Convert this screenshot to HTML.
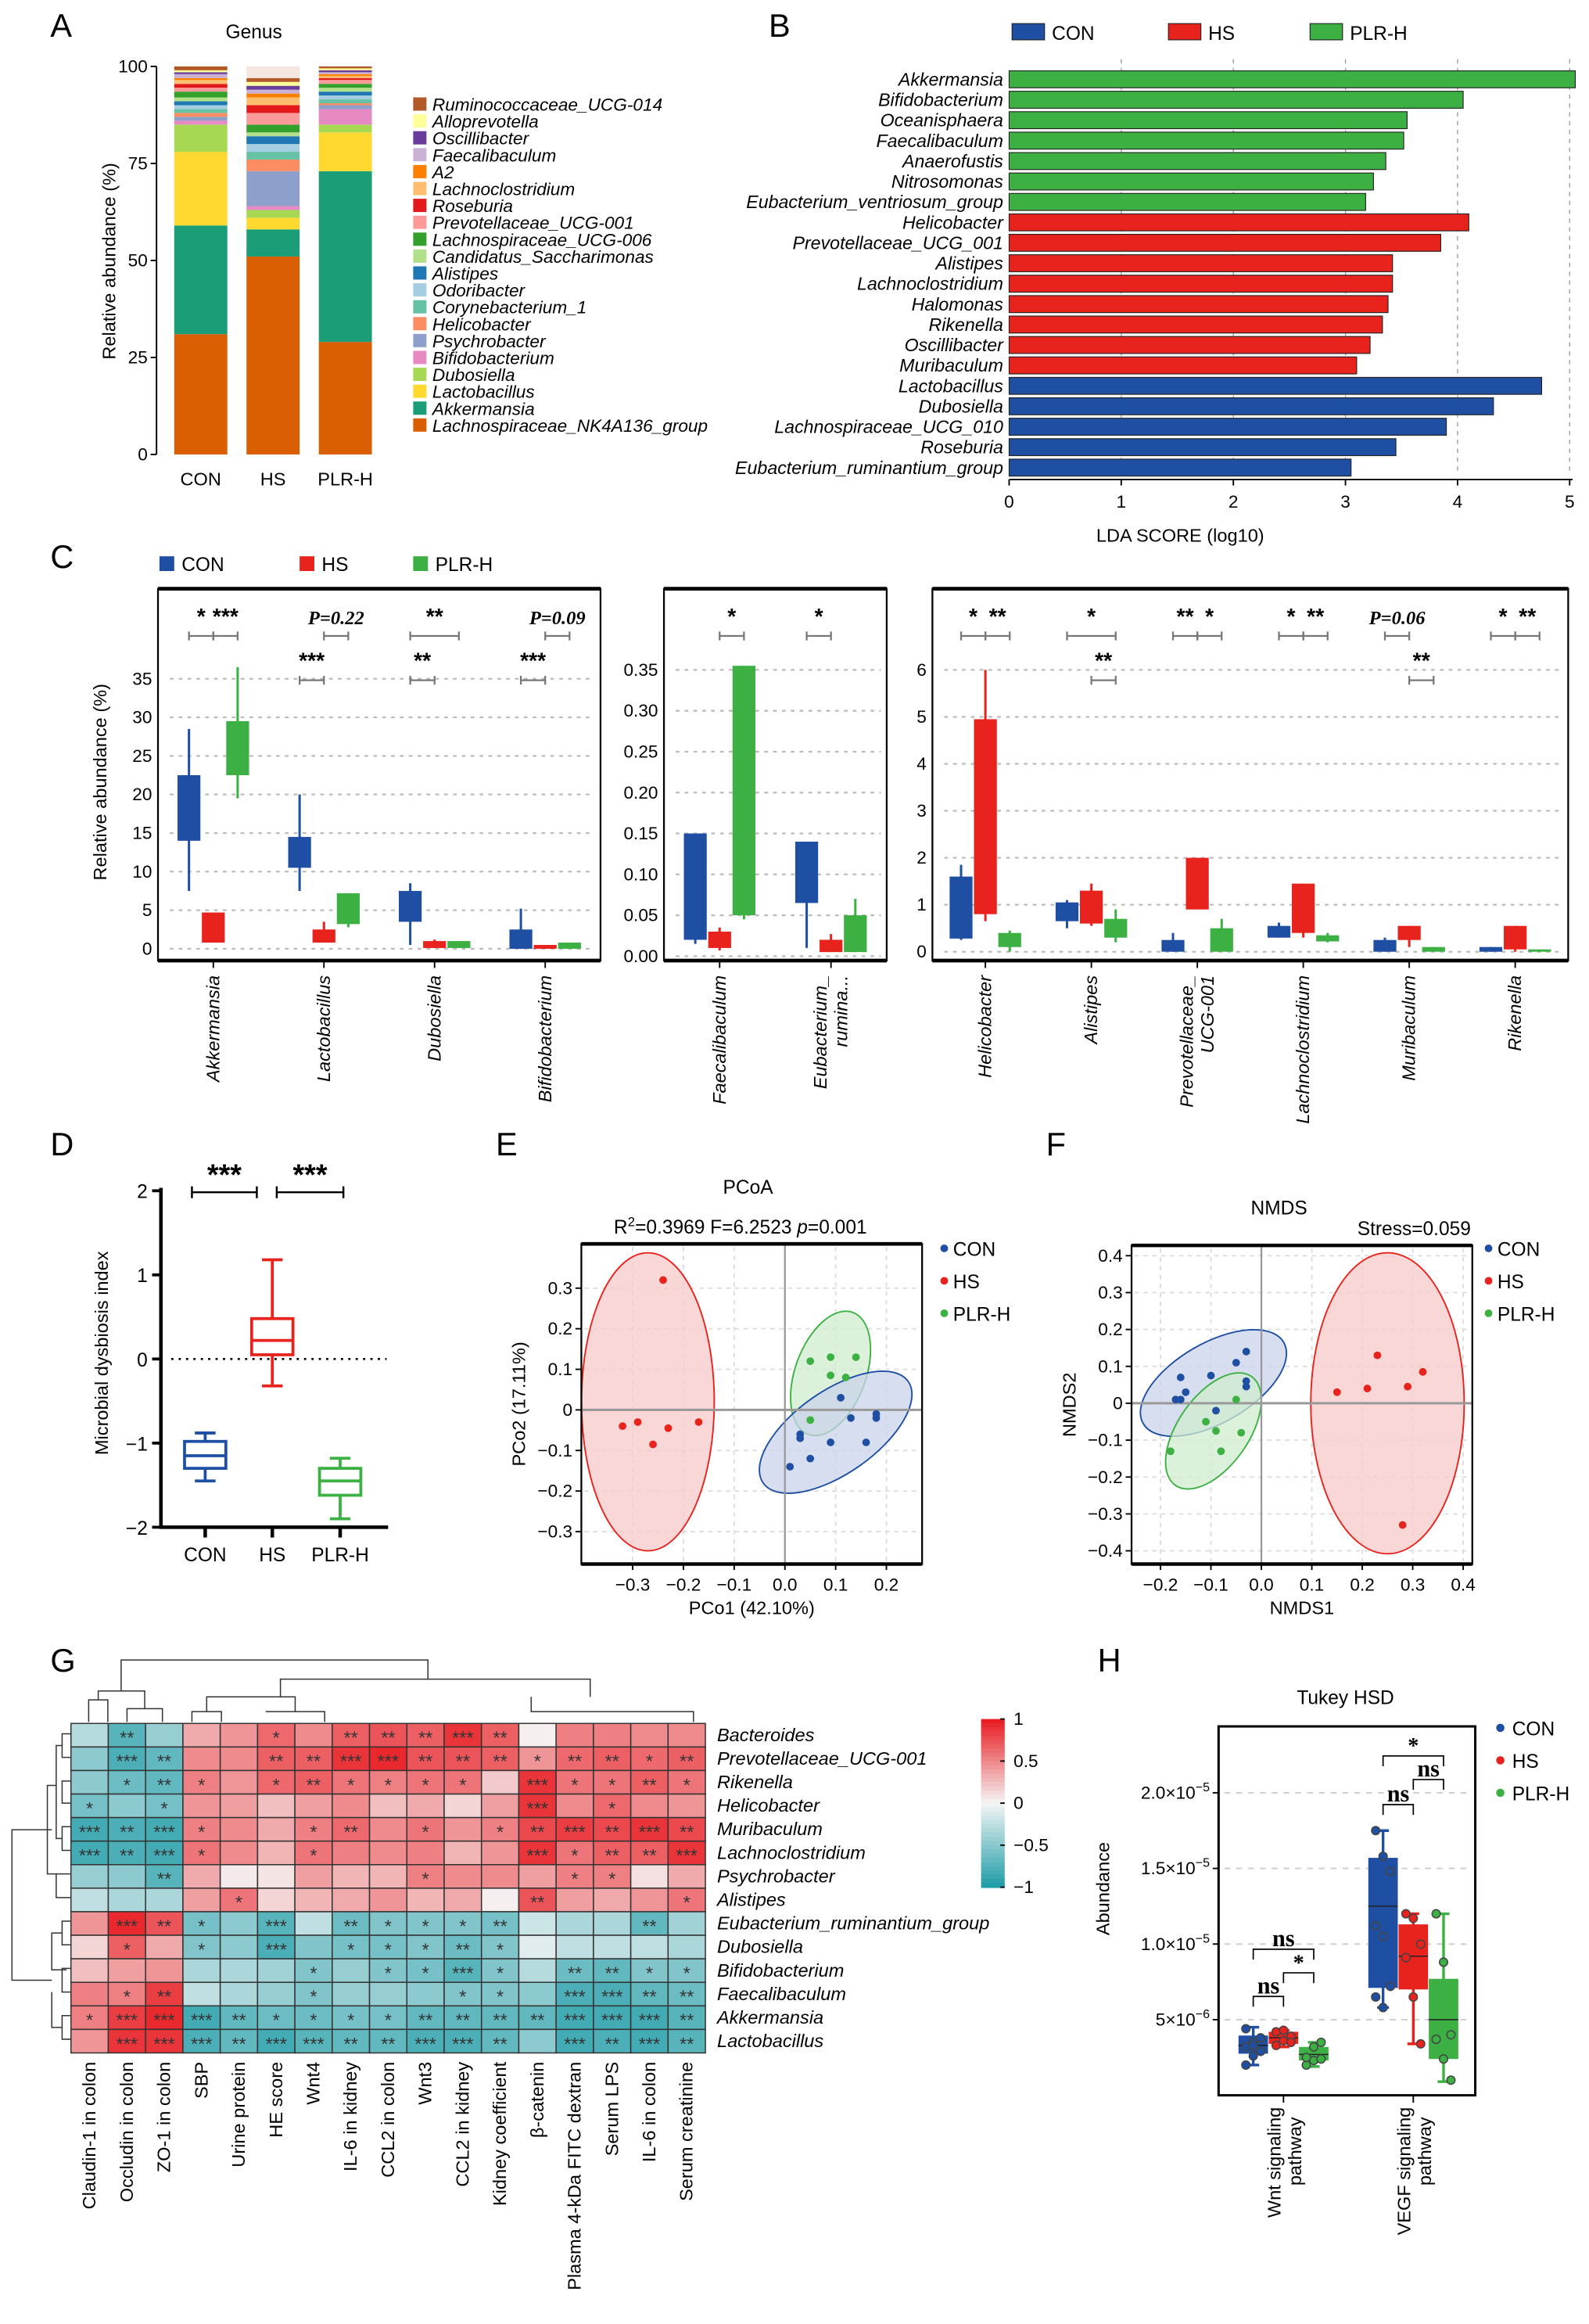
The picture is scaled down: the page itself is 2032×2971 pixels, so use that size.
<!DOCTYPE html>
<html><head><meta charset="utf-8"><style>
html,body{margin:0;padding:0;background:#fff;}
svg{display:block;font-family:"Liberation Sans",Arial,sans-serif;}
.it{font-style:italic;}
</style></head>
<body>
<svg id="fig" xmlns="http://www.w3.org/2000/svg" width="2032" height="2971" viewBox="0 0 1077 1575">
<rect x="0" y="0" width="1077" height="1575" fill="#fff"/>
</svg>
<script>
// ---------- DATA ----------
const grpNames=['CON','HS','PLR-H'];
// Panel A (bottom->top stacking order)
const genusNames=['Lachnospiraceae_NK4A136_group','Akkermansia','Lactobacillus','Dubosiella','Bifidobacterium','Psychrobacter','Helicobacter','Corynebacterium_1','Odoribacter','Alistipes','Candidatus_Saccharimonas','Lachnospiraceae_UCG-006','Prevotellaceae_UCG-001','Roseburia','Lachnoclostridium','A2','Faecalibaculum','Oscillibacter','Alloprevotella','Ruminococcaceae_UCG-014'];
const genusColors=['#d95f02','#1b9e77','#ffd92f','#a6d854','#e78ac3','#8da0cb','#fc8d62','#66c2a5','#a6cee3','#1f78b4','#b2df8a','#33a02c','#fb9a99','#e31a1c','#fdbf6f','#ff7f00','#cab2d6','#6a3d9a','#ffff99','#b15928'];
const abunCON=[31,28,19,7,1,1,1,1,1,1,1,1.5,1,1,1,0.5,1,0.5,0.5,1];
const abunHS=[51,7,3,2,1,9,3,2,2,2,1,2,3,2,2,1,1,1,1,1];
const abunPLR=[29,44,10,2,4,1,0.5,1,1,1,1,1,1,0.5,0.5,0.5,0.5,0.5,0.5,0.5];
const aTicks=[0,25,50,75,100];
// Panel B
const ldaNames=['Akkermansia','Bifidobacterium','Oceanisphaera','Faecalibaculum','Anaerofustis','Nitrosomonas','Eubacterium_ventriosum_group','Helicobacter','Prevotellaceae_UCG_001','Alistipes','Lachnoclostridium','Halomonas','Rikenella','Oscillibacter','Muribaculum','Lactobacillus','Dubosiella','Lachnospiraceae_UCG_010','Roseburia','Eubacterium_ruminantium_group'];
const ldaScores=[5.05,4.05,3.55,3.52,3.36,3.25,3.18,4.1,3.85,3.42,3.42,3.38,3.33,3.22,3.1,4.75,4.32,3.9,3.45,3.05];
const ldaGroup=[2,2,2,2,2,2,2,1,1,1,1,1,1,1,1,0,0,0,0,0];
const bTicks=[0,1,2,3,4,5];
// Panel C  [min,q1,q3,max]
const c1Cats=['Akkermansia','Lactobacillus','Dubosiella','Bifidobacterium'];
const c1CON=[[7.5,14,22.5,28.5],[7.5,10.5,14.5,20],[0.5,3.5,7.5,8.5],[0,0,2.5,5.2]];
const c1HS=[[0.8,0.8,4.7,4.7],[0.8,0.8,2.5,3.5],[0.1,0.1,1,1.2],[0,0,0.5,0.5]];
const c1PLR=[[19.5,22.5,29.5,36.5],[2.8,3.2,7.2,7.2],[0.1,0.1,1,1],[0,0,0.8,0.8]];
const c1Ticks=[0,5,10,15,20,25,30,35];
const c2Cats=['Faecalibaculum','Eubacterium_ rumina...'];
const c2CON=[[0.015,0.02,0.15,0.15],[0.01,0.065,0.14,0.14]];
const c2HS=[[0.007,0.01,0.03,0.035],[0.005,0.005,0.02,0.027]];
const c2PLR=[[0.045,0.05,0.355,0.355],[0.005,0.005,0.05,0.07]];
const c2Ticks=[0,0.05,0.10,0.15,0.20,0.25,0.30,0.35];
const c3Cats=['Helicobacter','Alistipes','Prevotellaceae_ UCG-001','Lachnoclostridium','Muribaculum','Rikenella'];
const c3CON=[[0.25,0.28,1.6,1.85],[0.5,0.65,1.05,1.1],[0,0,0.25,0.4],[0.3,0.3,0.55,0.62],[0,0,0.25,0.3],[0,0,0.1,0.1]];
const c3HS=[[0.65,0.8,4.95,6.0],[0.55,0.6,1.3,1.45],[0.9,0.9,2.0,2.0],[0.3,0.4,1.45,1.45],[0.1,0.25,0.55,0.55],[0,0.05,0.55,0.55]];
const c3PLR=[[0,0.1,0.4,0.45],[0.2,0.3,0.7,0.9],[0,0,0.5,0.7],[0.2,0.22,0.35,0.4],[0,0,0.1,0.1],[0,0,0.05,0.05]];
const c3Ticks=[0,1,2,3,4,5,6];
// significance [catIndex, g1, g2, label, row]
const sig1=[[0,0,1,'*',0],[0,1,2,'***',0],[1,1,2,'P=0.22',0],[1,0,1,'***',1],[2,0,2,'**',0],[2,0,1,'**',1],[3,1,2,'P=0.09',0],[3,0,1,'***',1]];
const sig2=[[0,1,2,'*',0],[1,0,1,'*',0]];
const sig3=[[0,0,1,'*',0],[0,1,2,'**',0],[1,0,2,'*',0],[1,1,2,'**',1],[2,0,1,'**',0],[2,1,2,'*',0],[3,0,1,'*',0],[3,1,2,'**',0],[4,0,1,'P=0.06',0],[4,1,2,'**',1],[5,0,1,'*',0],[5,1,2,'**',0]];
// Panel D  [min,q1,median,q3,max]
const dBox=[[-1.45,-1.3,-1.15,-0.98,-0.88],[-0.32,0.05,0.22,0.48,1.18],[-1.9,-1.62,-1.45,-1.3,-1.18]];
const dTicks=[-2,-1,0,1,2];
// Panel E PCoA
const eConX=[0.01,0.05,0.03,0.03,0.09,0.16,0.13,0.18,0.18,0.11];
const eConY=[-0.14,-0.12,-0.06,-0.07,-0.08,-0.08,-0.02,-0.01,-0.02,0.03];
const eHsX=[-0.24,-0.32,-0.29,-0.26,-0.23,-0.17];
const eHsY=[0.32,-0.04,-0.03,-0.085,-0.045,-0.03];
const ePlrX=[0.05,0.09,0.14,0.09,0.12,0.05];
const ePlrY=[0.12,0.13,0.13,0.085,0.08,-0.025];
const eXTicks=[-0.3,-0.2,-0.1,0.0,0.1,0.2];
const eYTicks=[-0.3,-0.2,-0.1,0,0.1,0.2,0.3];
// Panel F NMDS
const fConX=[-0.16,-0.1,-0.05,-0.03,-0.03,-0.03,-0.15,-0.16,-0.17,-0.09];
const fConY=[0.07,0.075,0.11,0.14,0.06,0.045,0.03,0.01,0.01,-0.02];
const fHsX=[0.15,0.21,0.23,0.29,0.32,0.28];
const fHsY=[0.03,0.04,0.13,0.045,0.085,-0.33];
const fPlrX=[-0.18,-0.11,-0.09,-0.04,-0.08,-0.05];
const fPlrY=[-0.13,-0.05,-0.075,-0.08,-0.13,0.01];
const fXTicks=[-0.2,-0.1,0.0,0.1,0.2,0.3,0.4];
const fYTicks=[-0.4,-0.3,-0.2,-0.1,0,0.1,0.2,0.3,0.4];
// Panel G heatmap
const gRows=['Bacteroides','Prevotellaceae_UCG-001','Rikenella','Helicobacter','Muribaculum','Lachnoclostridium','Psychrobacter','Alistipes','Eubacterium_ruminantium_group','Dubosiella','Bifidobacterium','Faecalibaculum','Akkermansia','Lactobacillus'];
const gCols=['Claudin-1 in colon','Occludin in colon','ZO-1 in colon','SBP','Urine protein','HE score','Wnt4','IL-6 in kidney','CCL2 in colon','Wnt3','CCL2 in kidney','Kidney coefficient','β-catenin','Plasma 4-kDa FITC dextran','Serum LPS','IL-6 in colon','Serum creatinine'];
const gVals=[
[-0.3,-0.75,-0.45,0.35,0.45,0.65,0.5,0.7,0.75,0.7,0.9,0.7,0.03,0.55,0.55,0.5,0.5],
[-0.5,-0.8,-0.7,0.5,0.5,0.7,0.7,0.9,0.95,0.75,0.75,0.7,0.45,0.65,0.7,0.65,0.7],
[-0.5,-0.65,-0.7,0.55,0.45,0.65,0.7,0.6,0.55,0.6,0.6,0.2,0.9,0.6,0.6,0.7,0.6],
[-0.6,-0.5,-0.6,0.45,0.4,0.25,0.4,0.5,0.25,0.35,0.15,0.4,0.9,0.5,0.65,0.5,0.45],
[-0.85,-0.8,-0.85,0.55,0.5,0.35,0.55,0.65,0.5,0.6,0.45,0.55,0.8,0.85,0.8,0.9,0.8],
[-0.85,-0.8,-0.85,0.6,0.5,0.3,0.6,0.55,0.5,0.55,0.3,0.45,0.9,0.6,0.7,0.7,0.9],
[-0.45,-0.5,-0.75,0.35,0.05,0.08,0.4,0.3,0.3,0.55,0.5,0.5,0.4,0.55,0.55,0.1,0.35],
[-0.25,-0.35,-0.35,0.4,0.6,0.15,0.3,0.35,0.45,0.3,0.35,0.03,0.75,0.4,0.35,0.45,0.6],
[0.45,0.95,0.75,-0.6,-0.5,-0.75,-0.25,-0.65,-0.55,-0.55,-0.55,-0.6,-0.2,-0.35,-0.35,-0.7,-0.4],
[0.15,0.7,0.35,-0.55,-0.5,-0.8,-0.55,-0.6,-0.6,-0.55,-0.65,-0.55,-0.1,-0.25,-0.25,-0.25,-0.35],
[0.25,0.4,0.45,-0.35,-0.35,-0.4,-0.55,-0.45,-0.55,-0.6,-0.75,-0.55,-0.3,-0.65,-0.7,-0.55,-0.55],
[0.55,0.55,0.85,-0.25,-0.35,-0.45,-0.55,-0.45,-0.45,-0.5,-0.55,-0.55,-0.5,-0.8,-0.8,-0.7,-0.65],
[0.55,0.85,0.95,-0.85,-0.7,-0.65,-0.65,-0.6,-0.6,-0.7,-0.7,-0.7,-0.7,-0.85,-0.85,-0.85,-0.75],
[0.45,0.9,0.9,-0.8,-0.7,-0.85,-0.75,-0.7,-0.7,-0.8,-0.8,-0.7,-0.5,-0.85,-0.8,-0.85,-0.75]];
const gStars=[
['','**','','','','*','','**','**','**','***','**','','','','',''],
['','***','**','','','**','**','***','***','**','**','**','*','**','**','*','**'],
['','*','**','*','','*','**','*','*','*','*','','***','*','*','**','*'],
['*','','*','','','','','','','','','','***','','*','',''],
['***','**','***','*','','','*','**','','*','','*','**','***','**','***','**'],
['***','**','***','*','','','*','','','','','','***','*','**','**','***'],
['','','**','','','','','','','*','','','','*','*','',''],
['','','','','*','','','','','','','','**','','','','*'],
['','***','**','*','','***','','**','*','*','*','**','','','','**',''],
['','*','','*','','***','','*','*','*','**','*','','','','',''],
['','','','','','','*','','*','*','***','*','','**','**','*','*'],
['','*','**','','','','*','','','','*','*','','***','***','**','**'],
['*','***','***','***','**','*','*','*','*','**','**','**','**','***','***','***','**'],
['','***','***','***','**','***','***','**','**','***','***','**','','***','**','***','**']];
const gBarTicks=[-1,-0.5,0,0.5,1];
// Panel H (values in 1e-6)  [min,q1,median,q3,max]
const hCats=['Wnt signaling pathway','VEGF signaling pathway'];
const hBox=[[[2.0,2.75,3.3,3.95,4.5],[3.2,3.4,3.8,4.2,4.3],[1.9,2.3,2.7,3.2,3.5]],[[5.8,7.1,12.5,15.7,17.5],[3.4,7.0,9.2,11.3,12],[0.9,2.4,5,7.7,12]]];
const hPtsWnt=[[2.0,2.6,2.9,3.2,3.5,3.8,4.4,3.3],[3.3,3.6,3.9,4.2,4.3,3.5],[2.0,2.3,2.4,2.5,3.2,3.5]];
const hPtsVegf=[[17.5,15.8,14.8,11.2,10.5,7.2,6.5,5.8],[12,11.7,10,9.1,6.5,3.4],[12,8.8,4,3.7,2.4,1.0]];
const hTicks=[5,10,15,20];
const hTickLabels=['5×10','1.0×10','1.5×10','2.0×10'];
const hTickExp=['−6','−5','−5','−5'];

// ---------- HELPERS ----------
const NS='http://www.w3.org/2000/svg';
const svg=document.getElementById('fig');
const COL=['#1f4fa3','#e8221c','#3cb043'];
function mk(tag,a,p){const e=document.createElementNS(NS,tag);for(const k in a)e.setAttribute(k,a[k]);(p||svg).appendChild(e);return e;}
function tx(x,y,s,a,p){const e=mk('text',Object.assign({x:x,y:y},a||{}),p);e.textContent=s;return e;}
function fmt(v,d){return v.toFixed(d);}
let e;

// panel letters
const letters=[['A',34,25],['B',521,25],['C',34,385],['D',34,783],['E',336,783],['F',709,783],['G',34,1133],['H',744,1133]];
for(const L of letters){
e=tx(L[1],L[2],L[0],{'font-size':22});


}

// ---------- PANEL A ----------
{
const g=mk('g',{});


const y0=308,y1=45; const ay=v=>y0-(v/100)*(y0-y1);
e=tx(172,26,'Genus',{'font-size':13,'text-anchor':'middle'},g);


e=mk('line',{x1:106,y1:y1,x2:106,y2:y0,stroke:'#000','stroke-width':1},g);


for(const t of aTicks){
e=mk('line',{x1:102,y1:ay(t),x2:106,y2:ay(t),stroke:'#000'},g);


e=tx(100,ay(t)+4,String(t),{'font-size':12,'text-anchor':'end'},g);


}
e=tx(0,0,'Relative abundance (%)',{'font-size':12.5,'text-anchor':'middle',transform:'translate(78,177) rotate(-90)'},g);


const sets=[abunCON,abunHS,abunPLR]; const bx=[118,167,216];
sets.forEach((arr,bi)=>{
let cum=0;
arr.forEach((v,i)=>{
e=mk('rect',{x:bx[bi],y:ay(cum+v),width:36,height:ay(cum)-ay(cum+v),fill:genusColors[i]},g);


cum+=v;});
e=mk('rect',{x:bx[bi],y:ay(100),width:36,height:ay(cum)-ay(100),fill:'#f3e7df'},g);


e=tx(bx[bi]+18,329,grpNames[bi],{'font-size':12.5,'text-anchor':'middle'},g);


});
for(let k=0;k<genusNames.length;k++){
const i=genusNames.length-1-k; const yy=66+k*11.45;
e=mk('rect',{x:280,y:yy,width:9,height:9,fill:genusColors[i]},g);


e=tx(293,yy+9,genusNames[i],{'font-size':12,'class':'it'},g);


}
}

// ---------- PANEL B ----------
{
const g=mk('g',{});


const x0=684,sc=76; const bxp=v=>x0+v*sc;
const lx=[686,792,888];
for(let i=0;i<3;i++){
e=mk('rect',{x:lx[i],y:16,width:22,height:11,fill:COL[i],stroke:'#222','stroke-width':0.6},g);


e=tx(lx[i]+27,27,grpNames[i],{'font-size':13},g);


}
for(const t of bTicks){
if(t>0){e=mk('line',{x1:bxp(t),y1:40,x2:bxp(t),y2:322,stroke:'#999','stroke-dasharray':'3,3','stroke-width':0.7},g);

}
e=mk('line',{x1:bxp(t),y1:325,x2:bxp(t),y2:329,stroke:'#000'},g);


e=tx(bxp(t),344,String(t),{'font-size':12,'text-anchor':'middle'},g);


}
e=mk('line',{x1:x0,y1:325,x2:1066,y2:325,stroke:'#000'},g);


e=tx(800,367,'LDA SCORE (log10)',{'font-size':12.5,'text-anchor':'middle'},g);


ldaNames.forEach((n,i)=>{
const yy=48+i*13.85;
e=mk('rect',{x:x0,y:yy,width:bxp(ldaScores[i])-x0,height:11.5,fill:COL[ldaGroup[i]],stroke:'#222','stroke-width':0.6},g);


e=tx(680,yy+10,n,{'font-size':12.3,'text-anchor':'end','class':'it'},g);


});
}

// ---------- PANEL C ----------
{
const lx=[108,203,280];
for(let i=0;i<3;i++){
e=mk('rect',{x:lx[i],y:377,width:10,height:10,fill:COL[i]});


e=tx(lx[i]+15,387,grpNames[i],{'font-size':13});


}
e=tx(0,0,'Relative abundance (%)',{'font-size':12.5,'text-anchor':'middle',transform:'translate(72,530) rotate(-90)'});


function boxPanel(name,bx0,bx1,yTop,yBot,v0y,vTopY,vMax,ticks,dec,cats,sets,sigs){
const g=mk('g',{});


const ys=v=>v0y-(v/vMax)*(v0y-vTopY);
e=mk('rect',{x:bx0,y:yTop,width:bx1-bx0,height:yBot-yTop,fill:'none',stroke:'#000','stroke-width':1.2},g);


e=mk('line',{x1:bx0,y1:yTop,x2:bx1,y2:yTop,stroke:'#000','stroke-width':2.5},g);


e=mk('line',{x1:bx0,y1:yBot,x2:bx1,y2:yBot,stroke:'#000','stroke-width':2.5},g);


for(const t of ticks){
e=mk('line',{x1:bx0+8,y1:ys(t),x2:bx1-4,y2:ys(t),stroke:'#bbb','stroke-dasharray':'2.5,3.5','stroke-width':1.2},g);


e=tx(bx0-4,ys(t)+4,fmt(t,dec),{'font-size':12,'text-anchor':'end'},g);


}
const n=cats.length; const cw=(bx1-bx0)/n; const bw=15.5;
const gx=(c,gi)=>bx0+cw*(c+0.5)+(gi-1)*(bw+1);
cats.forEach((c,ci)=>{
const cx=bx0+cw*(ci+0.5);
e=mk('line',{x1:cx,y1:yBot,x2:cx,y2:yBot+5,stroke:'#000'},g);


const parts=c.split(' ');
parts.forEach((p,pi)=>{
e=tx(0,0,p,{'font-size':12.5,'text-anchor':'end','class':'it',transform:'translate('+(cx+4+(pi-(parts.length-1)/2)*14)+','+(yBot+10)+') rotate(-90)'},g);


});
for(let gi=0;gi<3;gi++){
const b=sets[gi][ci]; const x=gx(ci,gi);
e=mk('line',{x1:x,y1:ys(b[0]),x2:x,y2:ys(b[3]),stroke:COL[gi],'stroke-width':1.6},g);


e=mk('rect',{x:x-bw/2,y:ys(b[2]),width:bw,height:Math.max(1.5,ys(b[1])-ys(b[2])),fill:COL[gi]},g);


}
});
const rowY=[yTop+32,yTop+62];
for(const s of sigs){
const xa=gx(s[0],s[1]),xb=gx(s[0],s[2]),yy=rowY[s[4]];
e=mk('path',{d:'M'+xa+','+(yy-3)+'V'+(yy+3)+'M'+xa+','+yy+'H'+xb+'M'+xb+','+(yy-3)+'V'+(yy+3),stroke:'#777','stroke-width':1.2,fill:'none'},g);


const isP=s[3].startsWith('P');
e=tx((xa+xb)/2,yy-8,s[3],{'font-size':isP?13:15,'text-anchor':'middle','font-weight':'bold','font-family':isP?'Liberation Serif, serif':'Liberation Sans, sans-serif','font-style':isP?'italic':'normal'},g);


}
}
boxPanel('panel-c-box-1',107,407,399,651,643,460,35,c1Ticks,0,c1Cats,[c1CON,c1HS,c1PLR],sig1);
boxPanel('panel-c-box-2',450,601,399,651,648,454,0.35,c2Ticks,2,c2Cats,[c2CON,c2HS,c2PLR],sig2);
boxPanel('panel-c-box-3',632,1063,399,651,645,454,6,c3Ticks,0,c3Cats,[c3CON,c3HS,c3PLR],sig3);
}

// ---------- PANEL D ----------
{
const g=mk('g',{});


const ys=v=>921-v*57;
e=mk('path',{d:'M109,805V1035H263',stroke:'#000',fill:'none','stroke-width':2.4},g);


for(const t of dTicks){
e=mk('line',{x1:103,y1:ys(t),x2:109,y2:ys(t),stroke:'#000','stroke-width':2},g);


e=tx(100,ys(t)+5,String(t).replace('-','−'),{'font-size':13,'text-anchor':'end'},g);


}
e=tx(0,0,'Microbial dysbiosis index',{'font-size':12.5,'text-anchor':'middle',transform:'translate(73,917) rotate(-90)'},g);


e=mk('line',{x1:116,y1:ys(0),x2:262,y2:ys(0),stroke:'#000','stroke-dasharray':'1.5,3.5','stroke-width':1.4},g);


const xs=[139,184.5,230.5];
dBox.forEach((b,i)=>{
const x=xs[i];
e=mk('path',{d:'M'+x+','+ys(b[0])+'V'+ys(b[1])+'M'+x+','+ys(b[3])+'V'+ys(b[4])+'M'+(x-7)+','+ys(b[0])+'H'+(x+7)+'M'+(x-7)+','+ys(b[4])+'H'+(x+7),stroke:COL[i],'stroke-width':2,fill:'none'},g);


e=mk('rect',{x:x-14,y:ys(b[3]),width:28,height:ys(b[1])-ys(b[3]),fill:'#fff',stroke:COL[i],'stroke-width':2},g);


e=mk('line',{x1:x-14,y1:ys(b[2]),x2:x+14,y2:ys(b[2]),stroke:COL[i],'stroke-width':2},g);


e=mk('line',{x1:x,y1:1035,x2:x,y2:1042,stroke:'#000','stroke-width':2.4},g);


e=tx(x,1058,grpNames[i],{'font-size':13,'text-anchor':'middle'},g);


});
const sg=[[130,174,'***'],[187.5,232.7,'***']];
for(const s of sg){
e=mk('path',{d:'M'+s[0]+',804V812M'+s[0]+',808H'+s[1]+'M'+s[1]+',804V812',stroke:'#000','stroke-width':1.3,fill:'none'},g);


e=tx((s[0]+s[1])/2,803,s[2],{'font-size':20,'text-anchor':'middle','font-weight':'bold'},g);


}
}

// ---------- PANEL E / F scatter helper ----------
// ellipse spec: [cxData, cyData, rx px, ry px, angle, group]
function ordination(name,xs,ys,xt,yt,fx0,fx1,fy0,fy1,sets,ells,xTitle,yTitle,legX,legY){
const g=mk('g',{});


for(const t of xt){
e=mk('line',{x1:xs(t),y1:fy0+2,x2:xs(t),y2:fy1-2,stroke:'#ddd','stroke-dasharray':'3,3'},g);


}
for(const t of yt){
e=mk('line',{x1:fx0+2,y1:ys(t),x2:fx1-2,y2:ys(t),stroke:'#ddd','stroke-dasharray':'3,3'},g);


}
ells.forEach((el)=>{
e=mk('ellipse',{cx:xs(el[0]),cy:ys(el[1]),rx:el[2],ry:el[3],transform:'rotate('+el[4]+' '+xs(el[0])+' '+ys(el[1])+')',fill:['#c9d3ea','#f7caca','#cfeccd'][el[5]],'fill-opacity':0.75,stroke:COL[el[5]],'stroke-width':1},g);


});
e=mk('line',{x1:xs(0),y1:fy0,x2:xs(0),y2:fy1,stroke:'#999','stroke-width':1.2},g);


e=mk('line',{x1:fx0,y1:ys(0),x2:fx1,y2:ys(0),stroke:'#999','stroke-width':1.6},g);


e=mk('rect',{x:fx0,y:fy0,width:fx1-fx0,height:fy1-fy0,stroke:'#000',fill:'none','stroke-width':1.2},g);


e=mk('path',{d:'M'+fx0+','+fy0+'H'+fx1+'M'+fx0+','+fy1+'H'+fx1,stroke:'#000',fill:'none','stroke-width':2.4},g);


for(const t of xt){
e=mk('line',{x1:xs(t),y1:fy1,x2:xs(t),y2:fy1+4,stroke:'#000'},g);


e=tx(xs(t),fy1+18,fmt(t,1).replace('-','−'),{'font-size':12,'text-anchor':'middle'},g);


}
for(const t of yt){
e=mk('line',{x1:fx0-4,y1:ys(t),x2:fx0,y2:ys(t),stroke:'#000'},g);


e=tx(fx0-6,ys(t)+4,(t===0?'0':fmt(t,1)).replace('-','−'),{'font-size':12,'text-anchor':'end'},g);


}
sets.forEach((s,gi)=>{
s[0].forEach((v,i)=>{
e=mk('circle',{cx:xs(v),cy:ys(s[1][i]),r:2.6,fill:COL[gi]},g);


});
e=mk('circle',{cx:legX+2,cy:legY+gi*22-5,r:2.6,fill:COL[gi]},g);


e=tx(legX+8,legY+gi*22,grpNames[gi],{'font-size':13},g);


});
e=tx((fx0+fx1)/2,fy1+34,xTitle,{'font-size':12.5,'text-anchor':'middle'},g);


e=tx(0,0,yTitle,{'font-size':12.5,'text-anchor':'middle',transform:'translate('+(fx0-38)+','+((fy0+fy1)/2)+') rotate(-90)'},g);


return g;
}
{
const xs=v=>532+v*344,ys=v=>955.5-v*275;
const g=ordination('panel-e-pcoa',xs,ys,eXTicks,eYTicks,394,625,843,1060,[[eConX,eConY],[eHsX,eHsY],[ePlrX,ePlrY]],
[[-0.27,0.02,45,101,0,1],[0.09,0.09,44,24,-70,2],[0.1,-0.055,60,28,-35,0]],'PCo1 (42.10%)','PCo2 (17.11%)',638,851);
e=tx(507,809,'PCoA',{'font-size':13,'text-anchor':'middle'},g);


const t=tx(416,836,'R',{'font-size':13},g);


const s1=document.createElementNS(NS,'tspan');s1.setAttribute('dy','-5');s1.setAttribute('font-size','9');s1.textContent='2';t.appendChild(s1);
const s2=document.createElementNS(NS,'tspan');s2.setAttribute('dy','5');s2.textContent='=0.3969 F=6.2523 ';t.appendChild(s2);
const s3=document.createElementNS(NS,'tspan');s3.setAttribute('font-style','italic');s3.textContent='p';t.appendChild(s3);
const s4=document.createElementNS(NS,'tspan');s4.textContent='=0.001';t.appendChild(s4);
}
{
const xs=v=>855+v*342,ys=v=>951-v*250;
const g=ordination('panel-f-nmds',xs,ys,fXTicks,fYTicks,767,998,844,1060,[[fConX,fConY],[fHsX,fHsY],[fPlrX,fPlrY]],
[[-0.095,0.055,55,27,-30,0],[-0.095,-0.075,45,24,-55,2],[0.25,0.0,52,102,0,1]],'NMDS1','NMDS2',1007,851);
e=tx(867,823,'NMDS',{'font-size':13,'text-anchor':'middle'},g);


e=tx(997,837,'Stress=0.059',{'font-size':13,'text-anchor':'end'},g);


}

// ---------- PANEL G ----------
{
const g=mk('g',{});


const hx0=48,cw=25.3,hy0=1168,rh=15.95;
function color(v){
const a=Math.min(1,Math.abs(v));
const c=v>=0?[232,30,36]:[34,158,168]; const w=[245,245,245];
const m=w.map((x,i)=>Math.round(x+(c[i]-x)*a));
return 'rgb('+m.join(',')+')';}
gVals.forEach((row,ri)=>{row.forEach((v,ci)=>{
e=mk('rect',{x:hx0+ci*cw,y:hy0+ri*rh,width:cw,height:rh,fill:color(v),stroke:'#333','stroke-width':0.8},g);


if(gStars[ri][ci]){
e=tx(hx0+ci*cw+cw/2,hy0+ri*rh+rh/2+6,gStars[ri][ci],{'font-size':12.5,'text-anchor':'middle',fill:'#333'},g);

}
});
e=tx(486,hy0+ri*rh+12,gRows[ri],{'font-size':12.5,'class':'it'},g);


});
gCols.forEach((c,ci)=>{
e=tx(0,0,c,{'font-size':12.5,'text-anchor':'end',transform:'translate('+(hx0+ci*cw+cw/2+4)+','+(hy0+14*rh+6)+') rotate(-90)'},g);


});
e=mk('path',{d:'M60,1167V1152H73V1167M86,1167V1158H110V1167M98,1158V1146H66.5V1152M82,1146V1125H290V1138M130,1167V1160H150V1167M140,1160V1150H200V1160M180,1160H220V1167M190,1150V1138H400V1150M360,1150V1160H470V1167M300,1138H290',stroke:'#333',fill:'none','stroke-width':0.8},g);


e=mk('path',{d:'M48,1175H42V1191H48M42,1183H38V1222M48,1207H42V1222H48M48,1238H42V1254H48M42,1246H38V1222M38,1210H32V1270H38M48,1270H38V1286H48M35,1240H8V1342H20M48,1302H42V1318H48M42,1310H35V1335H45M48,1334H42V1350H48M48,1366H42V1382H48M42,1374H35V1350M20,1342H35',stroke:'#333',fill:'none','stroke-width':0.8},g);


const cbx=665,cby0=1165,cby1=1279;
for(let k=0;k<40;k++){
const v=1-2*k/39;
e=mk('rect',{x:cbx,y:cby0+k*(cby1-cby0)/40,width:16,height:(cby1-cby0)/40+0.5,fill:color(v)},g);


}
for(const t of gBarTicks){
const yy=cby0+(1-t)/2*(cby1-cby0);
e=mk('line',{x1:cbx+13,y1:yy,x2:cbx+16,y2:yy,stroke:'#000'},g);


e=tx(cbx+22,yy+4,String(t).replace('-','−'),{'font-size':12},g);


}
}

// ---------- PANEL H ----------
{
const g=mk('g',{});


const ys=v=>1420-v*10.25;
const fx0=826,fx1=1000,fy0=1170,fy1=1420;
e=tx(912,1155,'Tukey HSD',{'font-size':13,'text-anchor':'middle'},g);


for(let i=0;i<hTicks.length;i++){
const t=hTicks[i];
e=mk('line',{x1:fx0+4,y1:ys(t),x2:fx1-4,y2:ys(t),stroke:'#ccc','stroke-dasharray':'4,4'},g);


e=mk('line',{x1:fx0-4,y1:ys(t),x2:fx0,y2:ys(t),stroke:'#000'},g);


const tt=tx(fx0-6,ys(t)+4,hTickLabels[i],{'font-size':12,'text-anchor':'end'},g);


const sp=document.createElementNS(NS,'tspan');sp.setAttribute('dy','-5');sp.setAttribute('font-size','8.5');sp.textContent=hTickExp[i];tt.appendChild(sp);
}
e=tx(0,0,'Abundance',{'font-size':12.5,'text-anchor':'middle',transform:'translate(752,1280) rotate(-90)'},g);


const cx=[870,958];
const pts=[hPtsWnt,hPtsVegf];
hCats.forEach((c,ci)=>{
for(let gi=0;gi<3;gi++){
const b=hBox[ci][gi]; const x=cx[ci]+(gi-1)*20.5;
e=mk('path',{d:'M'+x+','+ys(b[0])+'V'+ys(b[4])+'M'+(x-4)+','+ys(b[0])+'H'+(x+4)+'M'+(x-4)+','+ys(b[4])+'H'+(x+4),stroke:COL[gi],'stroke-width':1.8,fill:'none'},g);


e=mk('rect',{x:x-10,y:ys(b[3]),width:20,height:ys(b[1])-ys(b[3]),fill:COL[gi]},g);


e=mk('line',{x1:x-10,y1:ys(b[2]),x2:x+10,y2:ys(b[2]),stroke:'#222','stroke-width':0.8},g);


pts[ci][gi].forEach((v,i)=>{
e=mk('circle',{cx:x+((i%3)-1)*5,cy:ys(v),r:2.8,fill:COL[gi],stroke:'#444','stroke-width':0.8},g);


});
}
e=mk('line',{x1:cx[ci],y1:fy1,x2:cx[ci],y2:fy1+5,stroke:'#000'},g);


const parts=c.split(' ');
const l1=parts[0]+' '+parts[1], l2=parts[2];
e=tx(0,0,l1,{'font-size':12.5,'text-anchor':'end',transform:'translate('+(cx[ci]-2)+','+(fy1+8)+') rotate(-90)'},g);


e=tx(0,0,l2,{'font-size':12.5,'text-anchor':'middle',transform:'translate('+(cx[ci]+12)+','+(fy1+38)+') rotate(-90)'},g);


});
e=mk('rect',{x:fx0,y:fy0,width:fx1-fx0,height:fy1-fy0,fill:'none',stroke:'#000','stroke-width':1.6},g);


const hs=[[849.5,890.5,1321,'ns'],[870,890.5,1337,'*'],[849.5,870,1353,'ns'],[937.5,978.5,1190,'*'],[958,978.5,1206,'ns'],[937.5,958,1223,'ns']];
for(const s of hs){
e=mk('path',{d:'M'+s[0]+','+(s[2]+7)+'V'+s[2]+'H'+s[1]+'V'+(s[2]+7),stroke:'#000',fill:'none','stroke-width':0.9},g);


e=tx((s[0]+s[1])/2,s[2]-2,s[3],{'font-size':s[3]==='ns'?16:15,'text-anchor':'middle','font-weight':'bold','font-family':'Liberation Serif, serif'},g);


}
for(let gi=0;gi<3;gi++){
e=mk('circle',{cx:1017,cy:1171+gi*22,r:2.8,fill:COL[gi]},g);


e=tx(1025,1176+gi*22,grpNames[gi],{'font-size':13},g);


}
}
</script>
</body></html>
